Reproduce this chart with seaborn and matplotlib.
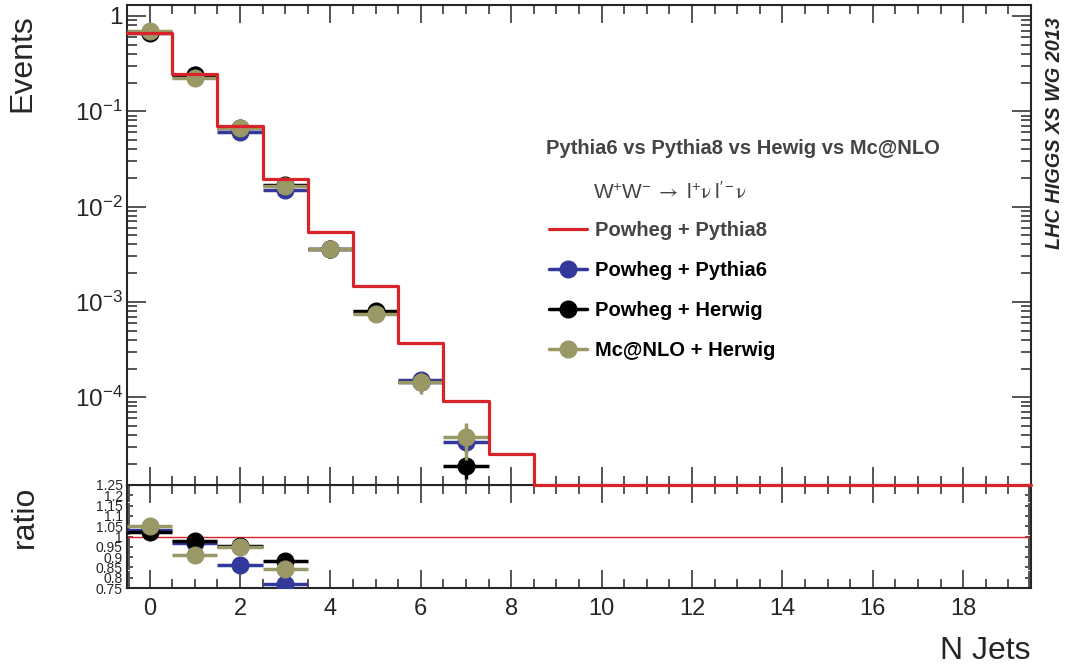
import numpy as np
import matplotlib
matplotlib.use("Agg")
import matplotlib.pyplot as plt
import seaborn as sns
from matplotlib.lines import Line2D
from matplotlib.ticker import MultipleLocator, FuncFormatter, LogLocator, NullFormatter

# --- data ---
bin_edges = np.arange(-0.5, 20.0, 1.0)
powheg_pythia8 = [0.655, 0.245, 0.0697, 0.0193, 0.00537, 0.00146, 0.000368, 9.05e-5, 2.51e-5,
                  0, 0, 0, 0, 0, 0, 0, 0, 0, 0, 0]

n_jets = [0, 1, 2, 3, 4, 5, 6, 7]
powheg_pythia6 = [0.675, 0.238, 0.0602, 0.0149, 0.0036, 0.00078, 0.000150, 3.37e-5]
powheg_herwig = [0.668, 0.239, 0.0666, 0.0170, 0.0036, 0.000797, 0.000146, 1.88e-5]
mcnlo_herwig = [0.688, 0.223, 0.0661, 0.0163, 0.0036, 0.000742, 0.000143, 3.79e-5]
err_pythia6 = [0.004, 0.002, 0.0006, 0.0002, 6e-5, 2.5e-5, 1.2e-5, 7e-6]
err_herwig = [0.004, 0.002, 0.0006, 0.0002, 6e-5, 2.5e-5, 1.2e-5, 5e-6]
err_mcnlo = [0.004, 0.002, 0.0006, 0.0002, 6e-5, 3e-5, 3.5e-5, 1.6e-5]

ratio_jets = [0, 1, 2, 3]
ratio_pythia6 = [1.03, 0.97, 0.863, 0.77]
ratio_herwig = [1.02, 0.977, 0.955, 0.88]
ratio_mcnlo = [1.05, 0.91, 0.948, 0.843]

red = "#d8232a"
blue = "#33399a"
black = "#000000"
olive = "#9a9866"
gray = "#444444"

sns.set_theme(style="ticks")
plt.rcParams["font.family"] = ["Liberation Sans", "DejaVu Sans"]
plt.rcParams["mathtext.fontset"] = "stix"
plt.rcParams["axes.linewidth"] = 1.5

fig = plt.figure(figsize=(10.65, 6.68), dpi=100)
W, H = 1065, 668
ax = fig.add_axes([127 / W, 1 - 485 / H, (1031 - 127) / W, (485 - 5) / H])
rax = fig.add_axes([127 / W, 1 - 588 / H, (1031 - 127) / W, (588 - 485) / H], sharex=ax)
ax.set_zorder(3)  # keep the red histogram floor above the ratio panel frame

ymin, ymax = 1.2e-5, 1.3

# red histogram (empty bins pinned to the axis floor like ROOT does)
hist_y = np.clip(np.array(powheg_pythia8, dtype=float), ymin, None)
step_y = np.append(hist_y, hist_y[-1])
sns.lineplot(x=bin_edges, y=step_y, drawstyle="steps-post", color=red, lw=2.3,
             ax=ax, zorder=6, clip_on=False, sort=False)

for vals, errs, col, z in [(powheg_pythia6, err_pythia6, blue, 3),
                           (powheg_herwig, err_herwig, black, 4),
                           (mcnlo_herwig, err_mcnlo, olive, 5)]:
    ax.errorbar(n_jets, vals, xerr=0.5, yerr=errs, fmt="o", color=col, ms=12,
                elinewidth=2.5, capsize=0, zorder=z)

ax.set_yscale("log")
ax.set_xlim(-0.5, 19.5)
ax.set_ylim(ymin, ymax)
ax.yaxis.set_major_locator(LogLocator(base=10, numticks=10))
ax.yaxis.set_minor_locator(LogLocator(base=10, subs=np.arange(2, 10), numticks=20))
ax.yaxis.set_minor_formatter(NullFormatter())
ax.yaxis.set_major_formatter(FuncFormatter(
    lambda v, p: "1" if abs(v - 1) < 1e-9 else r"$\mathdefault{10^{%d}}$" % round(np.log10(v))))
ax.xaxis.set_major_locator(MultipleLocator(2))
ax.xaxis.set_minor_locator(MultipleLocator(0.5))
ax.tick_params(which="both", direction="in", top=True, right=True, labelbottom=False, width=1.1)
ax.tick_params(axis="x", which="major", length=13)
ax.tick_params(axis="x", which="minor", length=6.5)
ax.tick_params(axis="y", which="major", length=14, labelsize=17.5, pad=3)
ax.tick_params(axis="y", which="minor", length=7)

# ratio panel
rax.axhline(1.0, color=red, lw=1.0, zorder=2)
for vals, col, z in [(ratio_pythia6, blue, 3), (ratio_herwig, black, 4), (ratio_mcnlo, olive, 5)]:
    rax.errorbar(ratio_jets, vals, xerr=0.5, fmt="o", color=col, ms=12,
                 elinewidth=2.5, capsize=0, zorder=z)
rax.set_ylim(0.75, 1.25)
rax.yaxis.set_major_locator(MultipleLocator(0.05))
rax.yaxis.set_minor_locator(MultipleLocator(0.01))
rax.yaxis.set_major_formatter(FuncFormatter(lambda v, p: f"{round(v, 2):g}"))
rax.tick_params(which="both", direction="in", top=True, right=True, width=1.1)
rax.tick_params(axis="x", which="major", length=13, labelsize=17, pad=7)
rax.tick_params(axis="x", which="minor", length=6.5)
rax.tick_params(axis="y", which="major", length=4, labelsize=10, pad=3)
rax.tick_params(axis="y", which="minor", length=2)
ax.set_xlabel("")
ax.set_ylabel("")

fig.text(22 / W, 1 - 14 / H, "Events", rotation=90, ha="center", va="top", fontsize=23)
fig.text(25 / W, 1 - 486 / H, "ratio", rotation=90, ha="center", va="top", fontsize=23)
fig.text(1030 / W, 1 - 659 / H, "N Jets", ha="right", va="baseline", fontsize=23)
fig.text(1054 / W, 1 - 133 / H, "LHC HIGGS XS WG 2013", rotation=90, ha="center", va="center",
         fontsize=14.3, weight="bold", style="italic")

fig.text(546 / W, 1 - 148 / H, "Pythia6 vs Pythia8 vs Hewig vs Mc@NLO", ha="left", va="center",
         fontsize=14.5, weight="bold", color=gray)
fig.text(593 / W, 1 - 192 / H,
         r"$\mathdefault{W^{+}W^{-}}\ \rightarrow\ \mathdefault{l^{+}}\mathrm{\nu}\ \mathdefault{l^{\prime-}}\mathrm{\nu}$",
         ha="left", va="center", fontsize=15, color=gray)

handles = [Line2D([], [], color=red, lw=2.3),
           Line2D([], [], color=blue, lw=2.5, marker="o", ms=12),
           Line2D([], [], color=black, lw=2.5, marker="o", ms=12),
           Line2D([], [], color=olive, lw=2.5, marker="o", ms=12)]
labels = ["Powheg + Pythia8", "Powheg + Pythia6", "Powheg + Herwig", "Mc@NLO + Herwig"]
leg = fig.legend(handles, labels, loc="upper left", bbox_to_anchor=(549 / W, 1 - 221 / H),
                 bbox_transform=fig.transFigure, frameon=False, borderpad=0, borderaxespad=0,
                 handlelength=1.9, handletextpad=0.4, labelspacing=1.05,
                 prop={"weight": "bold", "size": 14.5})
for t, c in zip(leg.get_texts(), [gray, black, black, black]):
    t.set_color(c)

fig.savefig("out.png", dpi=100)
